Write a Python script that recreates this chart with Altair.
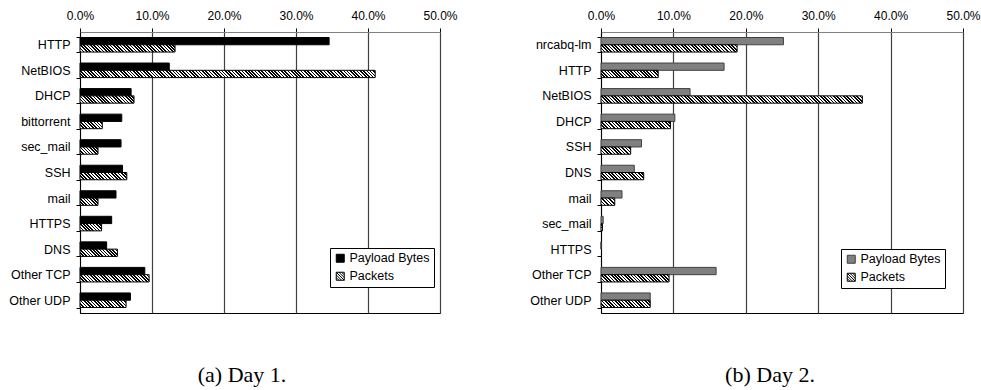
import altair as alt
import pandas as pd

# Traffic share by application, two capture days (percent)
SERIES = ["Payload Bytes", "Packets"]

day1_categories = ["HTTP", "NetBIOS", "DHCP", "bittorrent", "sec_mail", "SSH",
                   "mail", "HTTPS", "DNS", "Other TCP", "Other UDP"]
day1_payload = [34.6, 12.4, 7.1, 5.8, 5.7, 5.9, 5.0, 4.4, 3.7, 9.0, 7.0]
day1_packets = [13.2, 41.0, 7.5, 3.1, 2.5, 6.5, 2.5, 3.0, 5.2, 9.6, 6.4]

day2_categories = ["nrcabq-lm", "HTTP", "NetBIOS", "DHCP", "SSH", "DNS",
                   "mail", "sec_mail", "HTTPS", "Other TCP", "Other UDP"]
day2_payload = [25.2, 17.0, 12.3, 10.2, 5.6, 4.6, 2.9, 0.3, 0.0, 15.9, 6.8]
day2_packets = [18.8, 7.9, 36.1, 9.6, 4.1, 5.9, 1.9, 0.2, 0.0, 9.4, 6.8]

X_MAX = 0.5
PLOT_H = 281
PAD_IN = 0.43
PAD_OUT = PAD_IN / 2
SANS = "Liberation Sans"
SERIF = "Liberation Serif"

SQUARE = "M-1,-1H1V1H-1Z"
HATCH = ("M-1,-1H1V1H-1Z M-1,-1L1,1 M-0.33,-1L1,0.33 M0.33,-1L1,-0.33 "
         "M-1,-0.33L0.33,1 M-1,0.33L-0.33,1")


def hatch_fill(w, h, period=3.3, duty=0.5):
    """Diagonal black/white stripes as a hard-stop linear gradient sized to one bar."""
    w = max(w, 0.5)
    n = max(1, round((w + h) / period))
    ih, iw = 1.0 / h, 1.0 / w
    s = (ih + iw) / (ih * ih + iw * iw)
    stops = []
    for k in range(n):
        a, b, c = k / n, (k + duty) / n, (k + 1) / n
        stops += [
            alt.GradientStop(offset=a, color="black"),
            alt.GradientStop(offset=b, color="black"),
            alt.GradientStop(offset=b, color="white"),
            alt.GradientStop(offset=c, color="white"),
        ]
    return alt.LinearGradient(gradient="linear", x1=0, y1=1,
                              x2=s * ih, y2=1 - s * iw, stops=stops)


def panel(cats, payload, packets, pay_fill, pay_stroke, caption, cap_dx,
          leg_x, leg_y, width):
    n = len(cats)
    df = pd.DataFrame({
        "category": cats * 2,
        "series": [SERIES[0]] * n + [SERIES[1]] * n,
        "value": [v / 100 for v in payload + packets],
    })
    base = alt.Chart(df)

    x_axis = alt.Axis(orient="top", format=".1%", values=[0, 0.1, 0.2, 0.3, 0.4, 0.5],
                      grid=True, gridColor="#404040", gridWidth=1.2,
                      domainColor="#808080", tickColor="black", tickSize=4,
                      labelFont=SANS, labelFontSize=12, labelColor="black",
                      labelPadding=6, labelFlush=False, title=None)
    y_axis = alt.Axis(title=None, tickBand="extent", grid=False,
                      domainColor="black", tickColor="black", tickSize=4,
                      labelFont=SANS, labelFontSize=12.5, labelColor="black",
                      labelPadding=6)

    x = alt.X("value:Q", scale=alt.Scale(domain=[0, X_MAX], nice=False), axis=x_axis)
    y = alt.Y("category:N", sort=cats,
              scale=alt.Scale(paddingInner=PAD_IN, paddingOuter=PAD_OUT), axis=y_axis)
    yo = alt.YOffset("series:N", sort=SERIES,
                     scale=alt.Scale(domain=SERIES, paddingInner=0, paddingOuter=0))

    step = PLOT_H / (n - PAD_IN + 2 * PAD_OUT)
    bar_h = step * (1 - PAD_IN) / 2

    layers = [
        base.transform_filter(alt.datum.series == SERIES[0])
        .mark_bar(fill=pay_fill, stroke=pay_stroke, strokeWidth=1)
        .encode(x=x, y=y, yOffset=yo)
    ]
    for c, v in zip(cats, packets):
        if v <= 0:
            continue
        w = v / 100 / X_MAX * width
        layers.append(
            base.transform_filter((alt.datum.series == SERIES[1]) & (alt.datum.category == c))
            .mark_bar(fill=hatch_fill(w, bar_h), stroke="black", strokeWidth=1)
            .encode(x=x, y=y, yOffset=yo)
        )

    legend = alt.Legend(title=None, orient="none", legendX=leg_x, legendY=leg_y,
                        direction="vertical", fillColor="white", strokeColor="black",
                        padding=4, rowPadding=5, symbolSize=64,
                        symbolStrokeWidth=1, symbolOpacity=1,
                        labelFont=SANS, labelFontSize=12.5, labelColor="black",
                        labelOffset=3)
    layers.append(
        base.mark_point(filled=True, opacity=0).encode(
            x=x, y=y, yOffset=yo,
            fill=alt.Fill("series:N", sort=SERIES,
                          scale=alt.Scale(domain=SERIES, range=[pay_fill, "white"]),
                          legend=legend),
            stroke=alt.Stroke("series:N", sort=SERIES,
                              scale=alt.Scale(domain=SERIES, range=[pay_stroke, "black"]),
                              legend=legend),
            shape=alt.Shape("series:N", sort=SERIES,
                            scale=alt.Scale(domain=SERIES, range=[SQUARE, HATCH]),
                            legend=legend),
        )
    )

    return alt.layer(*layers).properties(
        width=width, height=PLOT_H,
        title=alt.TitleParams(caption, orient="bottom", anchor="middle", font=SERIF,
                              fontSize=22, fontWeight="normal", color="black",
                              offset=52, dx=cap_dx),
    )


left = panel(day1_categories, day1_payload, day1_packets, "black", "black",
             "(a) Day 1.", -18, 250, 216, 360)
right = panel(day2_categories, day2_payload, day2_packets, "#808080", "#404040",
              "(b) Day 2.", -12, 240, 217, 362)

chart = (
    alt.hconcat(left, right, spacing=71)
    .resolve_scale(x="independent", y="independent", yOffset="independent",
                   fill="independent", stroke="independent", shape="independent")
    .resolve_legend(fill="independent", stroke="independent", shape="independent")
    .properties(padding={"left": 8, "top": 8, "right": 0, "bottom": 0},
                background="white")
    .configure_view(stroke="black", strokeWidth=1)
)

chart.save("out.html", embed_options={"renderer": "svg", "actions": False})
